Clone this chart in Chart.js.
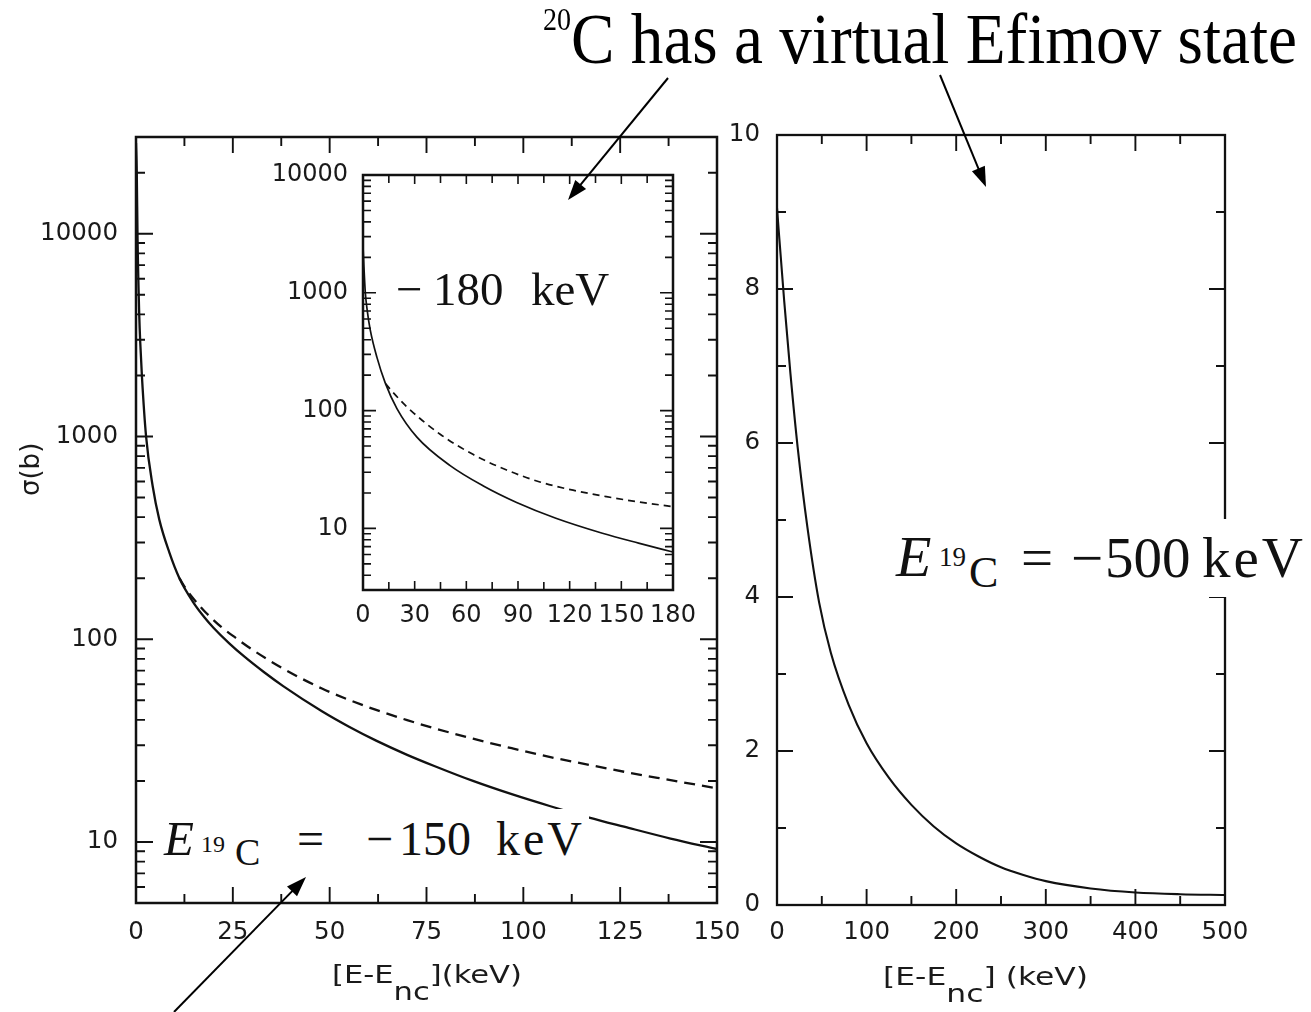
<!DOCTYPE html>
<html>
<head>
<meta charset="utf-8">
<script src="https://cdn.jsdelivr.net/npm/chart.js@4.4.1/dist/chart.umd.min.js"></script>
<style>
  html, body { margin: 0; padding: 0; background: #fff; }
  #page { position: relative; width: 1311px; height: 1012px; overflow: hidden; background: #fff; }
  canvas { position: absolute; }
  .t { position: absolute; white-space: nowrap; line-height: 1; color: #111; }
  .serif { font-family: 'Liberation Serif', 'Times New Roman', serif; }
  .sans { font-family: 'DejaVu Sans', sans-serif; color: #1a1a1a; }
  .it { font-style: italic; }
  .box { position: absolute; background: #fff; }
  .sub { vertical-align: -17px; }
  svg { position: absolute; left: 0; top: 0; }
</style>
</head>
<body>
<div id="page">
  <canvas id="cMain" width="760" height="1012" style="left:0px;top:0px;width:760px;height:1012px"></canvas>
  <canvas id="cInset" width="480" height="510" style="left:240px;top:130px;width:480px;height:510px"></canvas>
  <canvas id="cRight" width="591" height="1012" style="left:720px;top:0px;width:591px;height:1012px"></canvas>
</div>
<script>
// ---- cross sections, E(19C) = -150 keV (main panel) ----
const mainSolidX = [0, 0.2, 0.4, 0.85, 1.1, 1.55, 2.6, 4.3, 6, 8.6, 11.2, 14.7, 17.7, 20, 24, 28, 33, 38, 48, 55, 62, 70, 77, 87, 97, 107, 117, 126, 138, 150];
const mainSolidY = [28000, 20000, 9500, 3900, 2900, 1950, 1000, 570, 390, 268, 200, 153, 128, 114, 95.7, 82, 68.9, 58.7, 44.1, 37, 31.6, 26.9, 23.7, 20, 17.2, 15, 13.2, 11.9, 10.4, 9.23];
const mainDashX = [11.2, 13, 15, 18, 22, 26, 30, 38, 48, 55, 62, 70, 77, 87, 97, 107, 116, 126, 136, 150];
const mainDashY = [200, 176, 157, 135.5, 115, 100.7, 88.9, 71.6, 57.1, 50.2, 44.8, 39.9, 36.4, 32.3, 29, 26.2, 24.2, 22.2, 20.5, 18.4];

// ---- cross sections, -180 keV (inset) ----
const insetSolidX = [0, 0.5, 1.35, 2.5, 4.2, 8.1, 12.9, 19.7, 31.3, 50.6, 69.9, 89.2, 112, 139, 160, 180];
const insetSolidY = [2500, 1700, 1000, 700, 485, 283, 172, 104, 59.5, 34.1, 22.9, 16.6, 12.2, 9.1, 7.5, 6.3];
const insetDashX = [13, 15.8, 25.5, 44.8, 64.1, 83.4, 102.7, 122, 141.4, 160.7, 180];
const insetDashY = [170, 152, 107.6, 63, 42.3, 31.3, 24.8, 21.1, 18.6, 16.7, 15.3];

// ---- cross section, E(19C) = -500 keV (right panel) ----
const rightX = [0, 8, 15, 23, 34, 47, 60, 80, 100, 125, 150, 175, 200, 225, 250, 275, 300, 350, 400, 450, 500];
const rightY = [9.05, 7.85, 6.9, 5.95, 4.9, 3.93, 3.28, 2.6, 2.1, 1.65, 1.3, 1.02, 0.8, 0.63, 0.49, 0.39, 0.31, 0.215, 0.163, 0.14, 0.13];

// ---- tick labels ----
const mainXTicks = [0, 25, 50, 75, 100, 125, 150];
const mainYTicks = [10, 100, 1000, 10000];
const insetXTicks = [0, 30, 60, 90, 120, 150, 180];
const insetYTicks = [10, 100, 1000, 10000];
const rightXTicks = [0, 100, 200, 300, 400, 500];
const rightYTicks = [0, 2, 4, 6, 8, 10];

const pts = (xs, ys) => xs.map((x, i) => ({ x, y: ys[i] }));

Chart.defaults.font.family = "'DejaVu Sans', sans-serif";
Chart.defaults.color = '#1a1a1a';

// major + minor tick positions for a scale
function tickList(scale, minor) {
  const majors = scale.ticks.map(t => t.value);
  const out = majors.map(v => [v, true]);
  if (minor === 'log') {
    for (let d = Math.floor(Math.log10(scale.min)); d <= Math.ceil(Math.log10(scale.max)); d++) {
      for (let k = 2; k <= 9; k++) {
        const v = k * Math.pow(10, d);
        if (v >= scale.min - 1e-9 && v <= scale.max + 1e-9) out.push([v, false]);
      }
    }
  } else if (minor) {
    for (let v = scale.min; v <= scale.max + 1e-9; v += minor) {
      if (!majors.some(m => Math.abs(m - v) < 1e-9)) out.push([v, false]);
    }
  }
  return out;
}

// inward ticks on all four sides plus the box frame
const innerTicks = {
  id: 'innerTicks',
  afterDatasetsDraw(chart, args, o) {
    const { ctx, chartArea: a } = chart;
    const xs = chart.scales.x, ys = chart.scales.y;
    ctx.save();
    ctx.strokeStyle = '#111';
    ctx.lineWidth = o.tickWidth;
    ctx.beginPath();
    for (const [v, major] of tickList(xs, o.xMinor)) {
      const p = xs.getPixelForValue(v);
      const L = major ? o.xMajorLen : o.xMinorLen;
      ctx.moveTo(p, a.bottom); ctx.lineTo(p, a.bottom - L);
      ctx.moveTo(p, a.top); ctx.lineTo(p, a.top + L);
    }
    for (const [v, major] of tickList(ys, o.yMinor)) {
      const p = ys.getPixelForValue(v);
      const L = major ? o.yMajorLen : o.yMinorLen;
      ctx.moveTo(a.left, p); ctx.lineTo(a.left + L, p);
      ctx.moveTo(a.right, p); ctx.lineTo(a.right - L, p);
    }
    ctx.stroke();
    ctx.lineWidth = o.frameWidth;
    ctx.strokeRect(a.left, a.top, a.right - a.left, a.bottom - a.top);
    ctx.restore();
  }
};

function axis(type, min, max, ticks, padding, fit, fontSize) {
  return {
    type, min, max,
    afterBuildTicks(s) { s.ticks = ticks.map(v => ({ value: v })); },
    afterFit(s) { if (fit.w !== undefined) s.width = fit.w; if (fit.h !== undefined) s.height = fit.h; },
    grid: { display: false, drawTicks: false },
    border: { display: false },
    ticks: {
      autoSkip: false, maxRotation: 0, padding,
      font: { size: fontSize }, color: '#1a1a1a',
      callback: v => String(v)
    }
  };
}

function makeChart(id, datasets, pad, xAx, yAx, tickOpts) {
  return new Chart(document.getElementById(id), {
    type: 'line',
    data: { datasets },
    options: {
      responsive: false, animation: false, events: [],
      layout: { padding: pad },
      plugins: { legend: { display: false }, tooltip: { enabled: false }, innerTicks: tickOpts },
      elements: { point: { radius: 0 }, line: { cubicInterpolationMode: 'monotone' } },
      scales: { x: xAx, y: yAx }
    },
    plugins: [innerTicks]
  });
}

// main panel
makeChart('cMain', [
  { data: pts(mainSolidX, mainSolidY), borderColor: '#111', borderWidth: 2.3 },
  { data: pts(mainDashX, mainDashY), borderColor: '#111', borderWidth: 2.3, borderDash: [11, 7] }
], { left: 0, top: 137, right: 43, bottom: 0 },
  axis('linear', 0, 150, mainXTicks, 15, { h: 109 }, 24.5),
  axis('logarithmic', 5, 30000, mainYTicks, 18, { w: 136 }, 24.5),
  { xMinor: 12.5, yMinor: 'log', xMajorLen: 16, xMinorLen: 9, yMajorLen: 17, yMinorLen: 9, tickWidth: 1.9, frameWidth: 2.5 });

// inset
makeChart('cInset', [
  { data: pts(insetSolidX, insetSolidY), borderColor: '#111', borderWidth: 1.7 },
  { data: pts(insetDashX, insetDashY), borderColor: '#111', borderWidth: 1.7, borderDash: [7, 5] }
], { left: 0, top: 45, right: 47, bottom: 0 },
  axis('linear', 0, 180, insetXTicks, 11, { h: 50 }, 24),
  axis('logarithmic', 3, 10000, insetYTicks, 15, { w: 123 }, 24),
  { xMinor: 15, yMinor: 'log', xMajorLen: 9, xMinorLen: 8, yMajorLen: 13, yMinorLen: 8, tickWidth: 1.6, frameWidth: 2.5 });

// right panel
makeChart('cRight', [
  { data: pts(rightX, rightY), borderColor: '#111', borderWidth: 2.1 }
], { left: 0, top: 135, right: 86, bottom: 0 },
  axis('linear', 0, 500, rightXTicks, 13, { h: 107 }, 24.5),
  axis('linear', 0, 10, rightYTicks, 17, { w: 57 }, 24.5),
  { xMinor: 50, yMinor: 1, xMajorLen: 16, xMinorLen: 9, yMajorLen: 16, yMinorLen: 9, tickWidth: 1.9, frameWidth: 2.3 });

// ---- labels and annotations ----
const page = document.getElementById('page');
function box(l, t, w, h) {
  const b = document.createElement('div');
  b.className = 'box';
  Object.assign(b.style, { left: l + 'px', top: t + 'px', width: w + 'px', height: h + 'px' });
  page.appendChild(b);
}
function addText(html, cls, left, baseline, size, extra) {
  const el = document.createElement('div');
  el.className = 't ' + cls;
  el.innerHTML = html;
  const k = cls.indexOf('sans') >= 0 ? 0.846 : 0.8375;
  Object.assign(el.style, { fontSize: size + 'px', left: left + 'px', top: (baseline - k * size) + 'px' }, extra || {});
  page.appendChild(el);
  return el;
}
function fitWidth(el, w) {
  const nat = el.getBoundingClientRect().width;
  el.style.transformOrigin = '0 0';
  el.style.transform = 'scaleX(' + (w / nat).toFixed(4) + ')';
}

// white backgrounds behind the energy labels
box(158, 809, 431, 72);
box(885, 519, 426, 78);

// E(19C) = -150 keV
addText('E', 'serif it', 164, 855, 49);
addText('19', 'serif', 201, 852, 24);
addText('C', 'serif', 235, 865, 38);
addText('=', 'serif', 297, 855, 48);
addText('\u2212', 'serif', 366, 855, 48);
addText('150', 'serif', 399, 855, 48);
addText('keV', 'serif', 496, 855, 48, { letterSpacing: '3px' });

// E(19C) = -500 keV
addText('E', 'serif it', 896, 577, 58);
addText('19', 'serif', 939, 567, 27);
addText('C', 'serif', 969, 588, 44);
addText('=', 'serif', 1021, 577, 57);
addText('\u2212', 'serif', 1071, 577, 57);
addText('500', 'serif', 1105, 577, 57);
addText('keV', 'serif', 1202, 577, 57, { letterSpacing: '3px' });

// -180 keV (inset)
addText('\u2212', 'serif', 396, 305, 47);
addText('180', 'serif', 433, 305, 47);
addText('keV', 'serif', 531, 305, 47);

// heading
const head = addText('<span style="font-size:31px;vertical-align:33px">20</span>C has a virtual Efimov state', 'serif', 543, 63, 72, { color: '#000' });
fitWidth(head, 754);

// axis titles
const xt1 = addText('[E-E<span class="sub">nc</span>](keV)', 'sans', 332, 983, 25);
fitWidth(xt1, 190);
const xt2 = addText('[E-E<span class="sub">nc</span>] (keV)', 'sans', 883, 985, 25);
fitWidth(xt2, 205);
const yt = addText('\u03c3(b)', 'sans', 30, 469, 26, { transformOrigin: '0 0' });
const yr = yt.getBoundingClientRect();
yt.style.left = (30 - yr.height / 2) + 'px';
yt.style.top = (469 + yr.width / 2) + 'px';
yt.style.transform = 'rotate(-90deg)';

// arrows
const NS = 'http://www.w3.org/2000/svg';
const svg = document.createElementNS(NS, 'svg');
svg.setAttribute('width', 1311); svg.setAttribute('height', 1012);
page.appendChild(svg);
function arrow(x1, y1, x2, y2) {
  const dx = x2 - x1, dy = y2 - y1, len = Math.hypot(dx, dy);
  const ux = dx / len, uy = dy / len, hl = 20, hw = 7;
  const bx = x2 - ux * hl, by = y2 - uy * hl;
  const line = document.createElementNS(NS, 'line');
  line.setAttribute('x1', x1); line.setAttribute('y1', y1);
  line.setAttribute('x2', bx + ux * 2); line.setAttribute('y2', by + uy * 2);
  line.setAttribute('stroke', '#000'); line.setAttribute('stroke-width', 2);
  svg.appendChild(line);
  const tip = document.createElementNS(NS, 'polygon');
  tip.setAttribute('points', `${x2},${y2} ${bx - uy * hw},${by + ux * hw} ${bx + uy * hw},${by - ux * hw}`);
  tip.setAttribute('fill', '#000');
  svg.appendChild(tip);
}
arrow(668, 78, 568, 200);
arrow(940, 75, 986, 187);
arrow(174, 1012, 306, 877);
</script>
</body>
</html>
